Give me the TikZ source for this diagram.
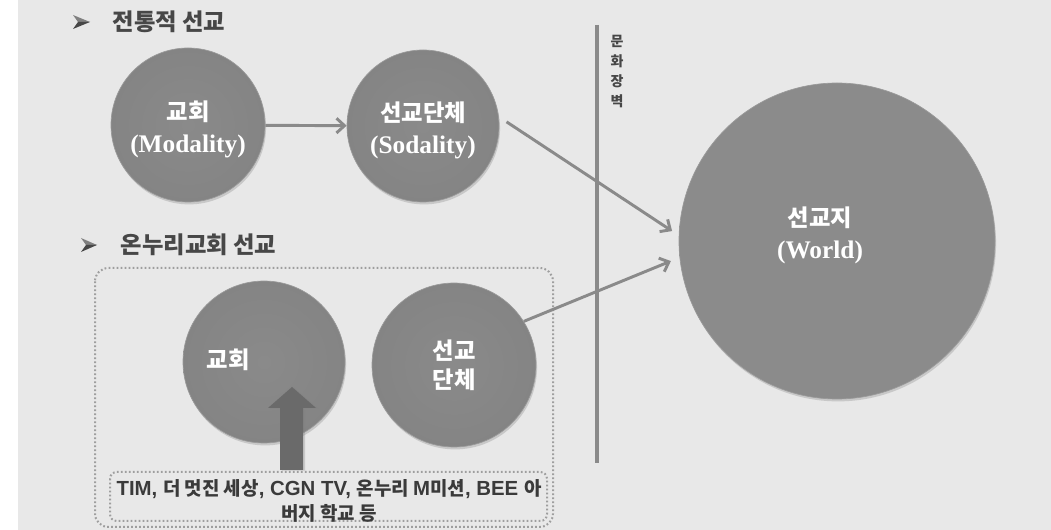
\documentclass[tikz,border=0pt]{standalone}
\usepackage{fontspec}
\setmainfont{Liberation Serif}
\newfontfamily\krfont{Noto Sans CJK KR}
\newfontfamily\lsfont{Liberation Sans}
\usetikzlibrary{arrows.meta,shadows,calc}
\definecolor{bgc}{HTML}{E8E8E8}
\definecolor{connc}{HTML}{8A8A8A}
\definecolor{headc}{HTML}{474747}
\definecolor{boxtxt}{HTML}{3A3A3A}
\definecolor{dotc}{HTML}{9E9E9E}
\definecolor{ballin}{HTML}{8A8A8A}
\definecolor{ballmid}{HTML}{838383}
\definecolor{ballout}{HTML}{6E6E6E}
\definecolor{ballrim}{HTML}{9A9A9A}
\definecolor{worldin}{HTML}{8B8B8B}
\definecolor{worldout}{HTML}{767676}
\definecolor{blockc}{HTML}{6A6A6A}
\pgfdeclareradialshading{ballsh}{\pgfpoint{0bp}{0bp}}{color(0bp)=(ballin); color(30bp)=(ballmid); color(46bp)=(ballout); color(50bp)=(ballrim)}
\pgfdeclareradialshading{worldsh}{\pgfpoint{0bp}{0bp}}{color(0bp)=(worldin); color(44bp)=(worldin); color(48.5bp)=(worldout); color(50bp)=(ballrim)}
\newcommand{\kor}{\krfont\bfseries\fontsize{17.5}{19}\selectfont}
\newcommand{\eng}{\rmfamily\bfseries\fontsize{19}{22}\selectfont}
\newcommand{\bk}{\krfont\bfseries\fontsize{14.2}{16}\selectfont}
\newcommand{\bl}{\lsfont\bfseries\fontsize{15.3}{16}\selectfont}
\begin{document}
\begin{tikzpicture}[x=0.75pt,y=-0.75pt,
  ball/.style={circle, shading=ballsh, draw=ballrim, line width=0.5pt, inner sep=0pt,
    text=white, align=center, font=\kor,
    drop shadow={opacity=0.3, shadow xshift=0.8pt, shadow yshift=-1.8pt}},
  worldball/.style={ball, shading=worldsh},
  intext/.style={text=white, align=center, font=\kor},
  conn/.style={draw=connc, line width=2.2pt, -{Straight Barb[length=6pt,width=11pt]}},
  head/.style={anchor=west, text=headc, font=\krfont\bfseries\fontsize{17.5}{19}\selectfont},
  bullet/.style={fill=#1},
  dotbox/.style={draw=dotc, line width=1.5pt, dash pattern=on 1.3pt off 1.7pt, rounded corners=#1},
  wall/.style={draw=connc, line width=3pt}]
\useasboundingbox (0,0) rectangle (1051,530);
\fill[white] (0,0) rectangle (18,530);
\fill[bgc] (18,0) rectangle (1051,530);

% headings
\fill[bullet=gray] (90,22) -- (73,15) -- (78,22) -- cycle;
\fill[bullet=headc] (90,22) -- (78,22) -- (73,29) -- cycle;
\node[head] (h1) at (108,22) {전통적 선교};
\fill[bullet=gray] (97,245) -- (81,238) -- (86,245) -- cycle;
\fill[bullet=headc] (97,245) -- (86,245) -- (81,252) -- cycle;
\node[head] (h2) at (116,245) {온누리교회 선교};

% cultural wall
\draw[wall] (597,25) -- (597,463);
\node[align=center, text=headc, font=\krfont\bfseries\fontsize{10.5}{15}\selectfont] (wt) at (617,72) {문\\화\\장\\벽};

% dotted boxes
\draw[dotbox=10pt] (95,268) rectangle (553,527);
\draw[dotbox=5pt] (110,472) rectangle (547,521);

% circles
\node[ball, minimum size=115.5pt,
  label={[intext, yshift=-3.5pt]center:{교회\\[5pt]\eng (Modality)}}] (c1) at (188,125) {};
\node[ball, minimum size=114pt,
  label={[intext, yshift=-3pt]center:{선교단체\\[5pt]\eng (Sodality)}}] (c2) at (423,126) {};
\node[ball, minimum size=121.5pt,
  label={[intext, xshift=-27pt, yshift=1.5pt]center:교회}] (c3) at (264,362) {};
\node[ball, minimum size=123pt] (c4) at (454,365) {선교\\[3pt]단체};
\node[worldball, minimum size=237pt,
  label={[intext, xshift=-12.75pt, yshift=4pt]center:{선교지\\[5pt]\eng (World)}}] (world) at (837,241) {};

% connectors
\draw[conn] (c1) -- (c2);
\draw[conn, shorten <=7pt, shorten >=6pt] (c2.7) -- (world.178);
\draw[conn, shorten >=7pt] (c4.32) -- (world.186);

% text box and block arrow
\node[align=center, text=boxtxt, font=\bk] (tb) at (329,501)
  {\bl TIM, \bk 더 멋진 세상\bl , CGN TV, \bk 온누리 \bl M\bk 미션\bl , BEE \bk 아\\[2.5pt]버지 학교 등};
\fill[blockc, drop shadow={opacity=0.3, shadow xshift=1.5pt, shadow yshift=-0.5pt}]
  (280,470) -- (280,408) -- (268,408) -- (292,387) -- (316,408) -- (303,408) -- (303,470) -- cycle;
\end{tikzpicture}
\end{document}
